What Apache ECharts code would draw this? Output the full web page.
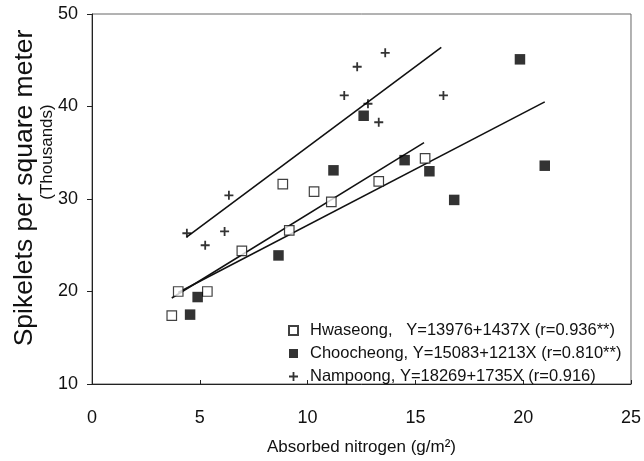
<!DOCTYPE html>
<html>
<head>
<meta charset="utf-8">
<script src="https://cdn.jsdelivr.net/npm/echarts@6/dist/echarts.min.js"></script>
<style>
  html, body { margin: 0; padding: 0; background: #fff; }
  #app { width: 644px; height: 461px; }
</style>
</head>
<body>
<div id="app"></div>
<script>
// spikelets (thousands / m2) vs absorbed nitrogen (g/m2)
const hwaseong = [
    [3.7, 17.4], [4.0, 20.0], [5.35, 20.0], [6.95, 24.4], [9.15, 26.6],
    [8.85, 31.6], [10.3, 30.8], [11.1, 29.7], [13.3, 31.9], [15.45, 34.4]
];
const choocheong = [
    [4.55, 17.5], [4.9, 19.4], [8.65, 23.9], [11.2, 33.1], [12.6, 39.0],
    [14.5, 34.2], [15.65, 33.0], [16.8, 29.9], [19.85, 45.1], [21.0, 33.6]
];
const nampoong = [
    [4.4, 26.3], [5.25, 25.0], [6.15, 26.5], [6.35, 30.4], [11.7, 41.2],
    [12.3, 44.3], [12.8, 40.3], [13.3, 38.3], [13.6, 45.8], [16.3, 41.2]
];

// regression line end points
const hwaseongFit = [[3.7, 19.3], [15.4, 36.1]];
const choocheongFit = [[4.0, 19.9], [21.0, 40.5]];
const nampoongFit = [[4.4, 25.9], [16.2, 46.4]];

const legendText = {
    'Hwaseong': 'Hwaseong,   Y=13976+1437X (r=0.936**)',
    'Choocheong': 'Choocheong, Y=15083+1213X (r=0.810**)',
    'Nampoong': 'Nampoong, Y=18269+1735X (r=0.916)'
};

const xTicks = [0, 5, 10, 15, 20, 25];
const yTicks = [10, 20, 30, 40, 50];

const plus = 'path://M4,0H6V4H10V6H6V10H4V6H0V4H4Z';
const font = 'Arial, "Liberation Sans", sans-serif';

const myChart = echarts.init(document.getElementById('app'));

const fitLine = data => ({
    type: 'line',
    data: data,
    symbol: 'none',
    silent: true,
    lineStyle: { color: '#111', width: 1.6 },
    z: 1
});

myChart.setOption({
    animation: false,
    textStyle: { fontFamily: font },
    grid: {
        left: 92, right: 11, top: 14, bottom: 69,
        show: true, borderColor: '#666', borderWidth: 1
    },
    legend: {
        orient: 'vertical',
        left: 283,
        top: 317,
        itemWidth: 9,
        itemHeight: 9,
        itemGap: 6,
        data: ['Hwaseong', 'Choocheong', 'Nampoong'],
        formatter: name => legendText[name],
        textStyle: { fontSize: 16.5, color: '#111', fontFamily: font, padding: [0, 0, 0, 7] }
    },
    // y axis title: big main line and smaller unit line beside it
    graphic: [
        {
            type: 'text',
            x: 25, y: 188,
            rotation: Math.PI / 2,
            style: {
                text: 'Spikelets per square meter',
                font: '26.5px ' + font,
                fill: '#111',
                textAlign: 'center',
                textVerticalAlign: 'middle'
            }
        },
        {
            type: 'text',
            x: 47, y: 152,
            rotation: Math.PI / 2,
            style: {
                text: '(Thousands)',
                font: '17px ' + font,
                fill: '#111',
                textAlign: 'center',
                textVerticalAlign: 'middle'
            }
        }
    ],
    xAxis: {
        type: 'value',
        min: xTicks[0],
        max: xTicks[xTicks.length - 1],
        interval: 5,
        name: 'Absorbed nitrogen (g/m²)',
        nameLocation: 'middle',
        nameGap: 55,
        nameTextStyle: { fontSize: 17, color: '#111' },
        axisLine: { lineStyle: { color: '#222' } },
        axisTick: { inside: true, length: 4, lineStyle: { color: '#222' } },
        axisLabel: { fontSize: 18, color: '#111', margin: 25 },
        splitLine: { show: false }
    },
    yAxis: {
        type: 'value',
        min: yTicks[0],
        max: yTicks[yTicks.length - 1],
        interval: 10,
        axisLine: { lineStyle: { color: '#222' } },
        axisTick: { inside: false, length: 5, lineStyle: { color: '#222' } },
        axisLabel: { fontSize: 18, color: '#111', margin: 14 },
        splitLine: { show: false }
    },
    series: [
        {
            name: 'Hwaseong',
            type: 'scatter',
            data: hwaseong,
            symbol: 'rect',
            symbolSize: 9.5,
            itemStyle: { color: '#fff', borderColor: '#111', borderWidth: 1.2 },
            z: 3
        },
        {
            name: 'Choocheong',
            type: 'scatter',
            data: choocheong,
            symbol: 'rect',
            symbolSize: 10.5,
            itemStyle: { color: '#000' },
            z: 3
        },
        {
            name: 'Nampoong',
            type: 'scatter',
            data: nampoong,
            symbol: plus,
            symbolSize: 9,
            itemStyle: { color: '#000' },
            z: 3
        },
        fitLine(hwaseongFit),
        fitLine(choocheongFit),
        fitLine(nampoongFit)
    ]
});
</script>
</body>
</html>
